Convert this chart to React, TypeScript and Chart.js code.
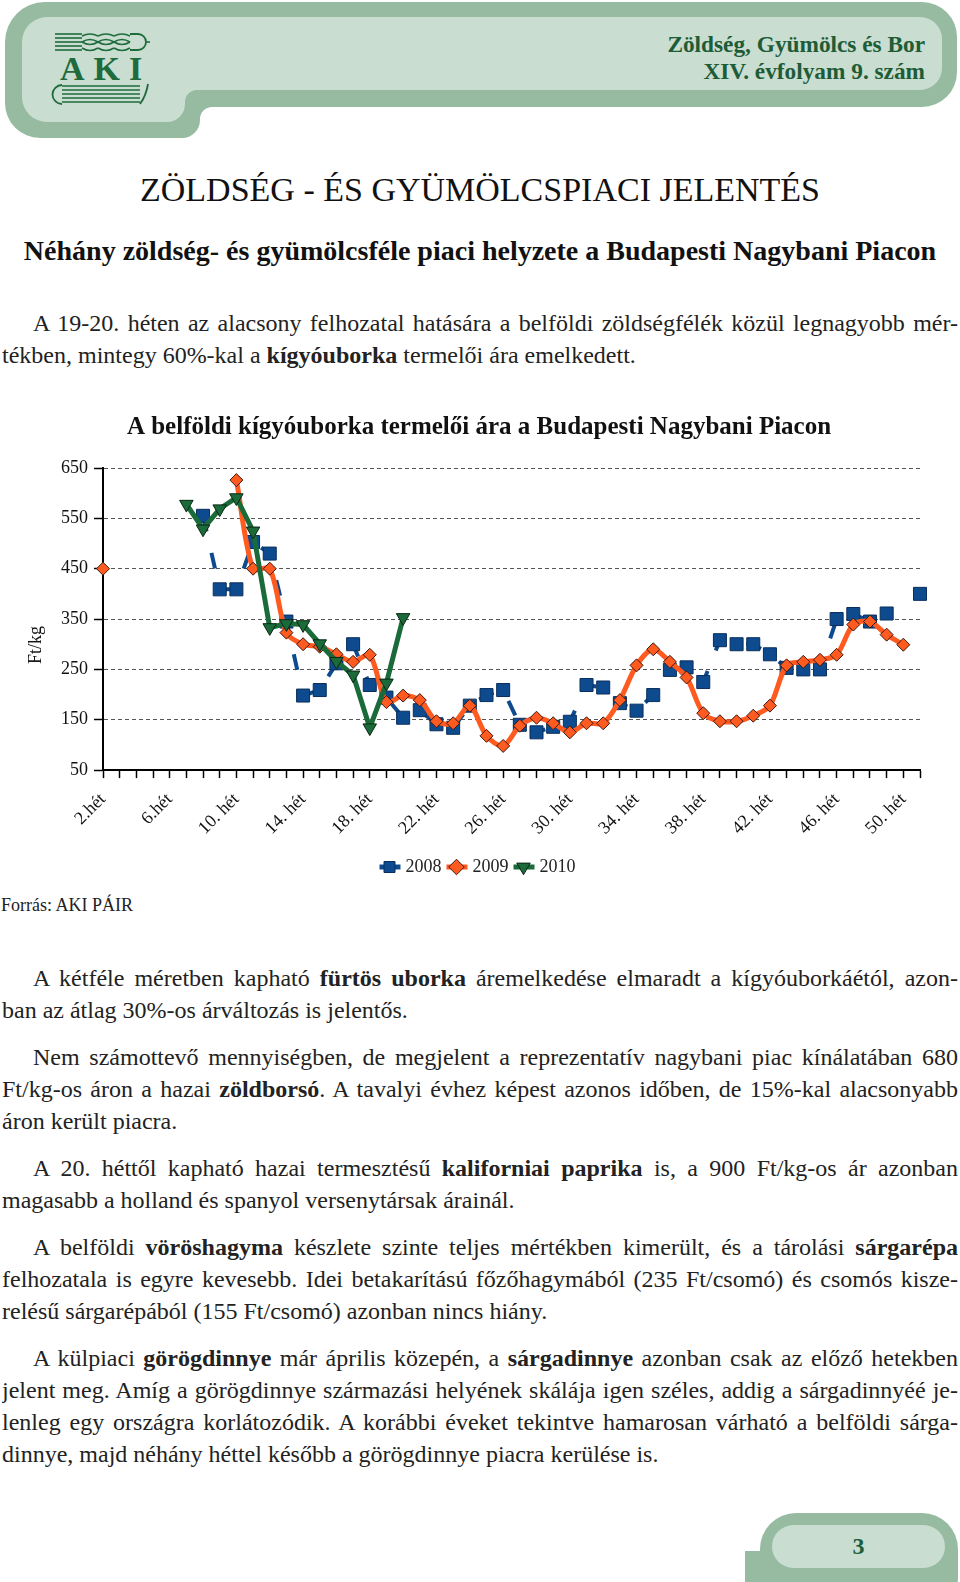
import React, { useEffect, useLayoutEffect, useRef } from "react";
import { Chart, registerables } from "chart.js";

Chart.register(...registerables);

const FONT = "'Liberation Serif', 'Times New Roman', serif";

// ---- chart data ----
const chartTitle = "A belföldi kígyóuborka termelői ára a Budapesti Nagybani Piacon";
const axisTitle = "Ft/kg";
const weekLabels = [
  "2.hét", "3.hét", "4.hét", "5.hét", "6.hét", "7.hét", "8.hét", "9.hét",
  "10. hét", "11. hét", "12. hét", "13. hét", "14. hét", "15. hét", "16. hét", "17. hét",
  "18. hét", "19. hét", "20. hét", "21. hét", "22. hét", "23. hét", "24. hét", "25. hét",
  "26. hét", "27. hét", "28. hét", "29. hét", "30. hét", "31. hét", "32. hét", "33. hét",
  "34. hét", "35. hét", "36. hét", "37. hét", "38. hét", "39. hét", "40. hét", "41. hét",
  "42. hét", "43. hét", "44. hét", "45. hét", "46. hét", "47. hét", "48. hét", "49. hét",
  "50. hét", "51. hét",
];
const seriesNames = ["2008", "2009", "2010"];
const price2008 = [
  null, null, null, null, null, null, 555, 409, 409, 503,
  480, 345, 198, 209, 262, 300, 219, 194, 154, 169,
  141, 134, 178, 199, 209, 140, 125, 136, 146, 219,
  214, 183, 168, 199, 249, 254, 225, 308, 300, 300,
  280, 253, 250, 250, 350, 360, 345, 361, null, 400,
];
const price2009 = [
  450, null, null, null, null, null, null, null, 626, 450,
  450, 323, 300, 295, 280, 265, 279, 185, 198, 189,
  147, 143, 178, 118, 98, 138, 154, 143, 125, 143,
  143, 189, 258, 290, 265, 234, 163, 147, 147, 158,
  178, 258, 265, 269, 279, 339, 345, 319, 299, null,
];
const price2010 = [
  null, null, null, null, null, 578, 529, 569, 591, 525,
  333, 341, 339, 301, 266, 239, 134, 223, 353, null,
  null, null, null, null, null, null, null, null, null, null,
  null, null, null, null, null, null, null, null, null, null,
  null, null, null, null, null, null, null, null, null, null,
];
const yMin = 50;
const yMax = 650;
const yStep = 100;

const BLUE = "#0E4A8E";
const ORANGE = "#FF5A1F";
const GREEN = "#1B6B3A";

const LEGEND_FONT = 18;
const LEGEND_BOX_W = 14;
const LEGEND_BOX_H = 11;

const legendLines = {
  id: "legendLines",
  beforeDraw(chart: any) {
    const lg = chart.legend;
    if (!lg || !lg.legendHitBoxes || !lg.legendItems) return;
    const ctx = chart.ctx;
    lg.legendHitBoxes.forEach((hb: any, i: number) => {
      const item = lg.legendItems[i];
      if (!item) return;
      const ds = chart.data.datasets[item.datasetIndex];
      const cx = hb.left + LEGEND_BOX_W / 2;
      const cy = hb.top + LEGEND_FONT / 2;
      ctx.save();
      ctx.strokeStyle = ds.borderColor;
      ctx.lineWidth = 5;
      ctx.beginPath();
      ctx.moveTo(cx - 10, cy);
      ctx.lineTo(cx + 11, cy);
      ctx.stroke();
      ctx.restore();
    });
  },
};

function PriceChart() {
  const ref = useRef<HTMLCanvasElement>(null);
  useEffect(() => {
    if (!ref.current) return;
    const chart = new Chart(ref.current, {
      type: "line",
      data: {
        labels: weekLabels,
        datasets: [
          {
            label: seriesNames[0],
            data: price2008,
            borderColor: BLUE,
            backgroundColor: BLUE,
            borderWidth: 4,
            borderDash: [16, 22],
            pointStyle: "rect",
            pointRadius: 9.2,
            pointBackgroundColor: BLUE,
            pointBorderColor: "#0A2F5C",
            pointBorderWidth: 1,
            tension: 0,
            order: 3,
          },
          {
            label: seriesNames[1],
            data: price2009,
            borderColor: ORANGE,
            backgroundColor: ORANGE,
            borderWidth: 5,
            pointStyle: "rectRot",
            pointRadius: 6.5,
            pointBackgroundColor: ORANGE,
            pointBorderColor: "#3A1A10",
            pointBorderWidth: 1,
            tension: 0.3,
            order: 2,
          },
          {
            label: seriesNames[2],
            data: price2010,
            borderColor: GREEN,
            backgroundColor: GREEN,
            borderWidth: 5,
            pointStyle: "triangle",
            pointRotation: 180,
            pointRadius: 7.8,
            pointBackgroundColor: GREEN,
            pointBorderColor: "#0B2614",
            pointBorderWidth: 1,
            tension: 0,
            order: 1,
          },
        ],
      },
      options: {
        animation: false,
        responsive: false,
        maintainAspectRatio: false,
        layout: { padding: { left: 38, right: 40, top: 0, bottom: 4 } },
        plugins: {
          title: {
            display: true,
            text: chartTitle,
            color: "#111",
            font: { family: FONT, size: 25, weight: "bold" },
            padding: { top: 8, bottom: 25 },
          },
          legend: {
            position: "bottom",
            labels: {
              usePointStyle: true,
              boxWidth: LEGEND_BOX_W,
              boxHeight: LEGEND_BOX_H,
              color: "#222",
              font: { family: FONT, size: LEGEND_FONT },
              padding: 8,
              sort: (a: any, b: any) => a.datasetIndex - b.datasetIndex,
            },
          },
          tooltip: { enabled: false },
        },
        scales: {
          x: {
            type: "category",
            offset: false,
            grid: {
              drawOnChartArea: false,
              drawTicks: true,
              tickLength: 8,
              tickColor: "#000",
              tickWidth: 1.5,
            },
            border: { display: true, color: "#000", width: 2 },
            ticks: {
              autoSkip: false,
              maxRotation: 45,
              minRotation: 45,
              padding: 11,
              color: "#111",
              font: { family: FONT, size: 18 },
              callback: (_v: any, i: number) => (i % 4 === 0 ? weekLabels[i] : ""),
            },
          },
          y: {
            min: yMin,
            max: yMax,
            afterFit: (scale: any) => {
              scale.width = 65;
            },
            grid: {
              color: "#555",
              lineWidth: 1,
              tickColor: "#000",
              tickWidth: 1.5,
              tickLength: 9,
            },
            border: { display: true, color: "#000", width: 2, dash: [4, 3] },
            ticks: {
              stepSize: yStep,
              padding: 6,
              color: "#111",
              font: { family: FONT, size: 18 },
            },
          },
        },
      },
      plugins: [legendLines],
    } as any);
    return () => chart.destroy();
  }, []);
  return (
    <canvas
      ref={ref}
      width={960}
      height={485}
      style={{ position: "absolute", left: 0, top: 405, width: 960, height: 485 }}
    />
  );
}

type Line = { content: React.ReactNode; indent?: boolean; last?: boolean };

function Para({ top, lines }: { top: number; lines: Line[] }) {
  const box = useRef<HTMLDivElement>(null);
  useLayoutEffect(() => {
    if (!box.current) return;
    Array.from(box.current.children).forEach((c) => {
      const el = c as HTMLDivElement;
      let ls = 0;
      while (el.scrollHeight > 34 && ls > -2) {
        ls -= 0.1;
        el.style.letterSpacing = ls.toFixed(2) + "px";
      }
    });
  }, []);
  return (
    <div ref={box} style={{ position: "absolute", left: 2, top, width: 956 }}>
      {lines.map((l, i) => (
        <div
          key={i}
          style={{
            height: 32,
            lineHeight: "32px",
            fontSize: 24,
            paddingLeft: l.indent ? 31 : 0,
            textAlign: "justify",
            textAlignLast: l.last ? "left" : "justify",
            overflow: "hidden",
          }}
        >
          {l.content}
        </div>
      ))}
    </div>
  );
}

function Header() {
  const outer =
    "M5,42 A40,40 0 0 1 45,2 L922,2 A35,35 0 0 1 957,37 L957,72 A35,35 0 0 1 922,107 L212,107 A12,12 0 0 0 200,119 L200,120 A18,18 0 0 1 182,138 L40,138 A35,35 0 0 1 5,103 Z";
  const inner =
    "M22,42 A25,25 0 0 1 47,17 L920,17 A22,22 0 0 1 942,39 L942,68 A22,22 0 0 1 920,90 L197,90 A12,12 0 0 0 185,102 L185,104 A18,18 0 0 1 167,122 L47,122 A25,25 0 0 1 22,97 Z";
  const dg = "#1E6B3C";
  return (
    <div style={{ position: "absolute", left: 0, top: 0, width: 960, height: 145 }}>
      <svg width={960} height={145} style={{ position: "absolute", left: 0, top: 0 }}>
        <path d={outer} fill="#97BBA1" />
        <path d={inner} fill="#C9DDD0" />
        {/* wheat */}
        {[34, 38, 42, 46, 50].map((y) => (
          <line key={y} x1={55} y1={y} x2={82} y2={y} stroke={dg} strokeWidth={1.6} />
        ))}
        {[82, 98, 114].map((x) => (
          <g key={x} fill="none" stroke={dg} strokeWidth={1.6}>
            <path d={`M${x},36 Q${x + 8},32 ${x + 16},36`} />
            <path d={`M${x},42 Q${x + 8},37 ${x + 16},42`} />
            <path d={`M${x},42 Q${x + 8},47 ${x + 16},42`} />
            <path d={`M${x},48 Q${x + 8},53 ${x + 16},48`} />
          </g>
        ))}
        <path d="M130,34 L138,34 A8,8 0 0 1 138,50 L130,50" fill="none" stroke={dg} strokeWidth={1.8} />
        <line x1={146} y1={42} x2={150} y2={42} stroke={dg} strokeWidth={1.6} />
        {/* book */}
        {[86, 90, 94, 98, 102].map((y) => (
          <line key={y} x1={62} y1={y} x2={140} y2={y} stroke={dg} strokeWidth={1.6} />
        ))}
        <path d="M62,85 A9,9 0 0 0 62,104" fill="none" stroke={dg} strokeWidth={1.8} />
        <path d="M140,104 Q146,96 148,84" fill="none" stroke={dg} strokeWidth={1.8} />
      </svg>
      <div
        style={{
          position: "absolute",
          left: 60,
          top: 50,
          width: 100,
          fontSize: 34,
          lineHeight: "38px",
          fontWeight: "bold",
          color: dg,
          letterSpacing: 9,
          fontFamily: FONT,
        }}
      >
        AKI
      </div>
      <div
        style={{
          position: "absolute",
          right: 35,
          top: 31,
          textAlign: "right",
          fontSize: 23.3,
          lineHeight: "27px",
          fontWeight: "bold",
          color: "#1D5C37",
        }}
      >
        <div>Zöldség, Gyümölcs és Bor</div>
        <div>XIV. évfolyam 9. szám</div>
      </div>
    </div>
  );
}

function Footer() {
  return (
    <div style={{ position: "absolute", left: 0, top: 1500, width: 960, height: 82 }}>
      <svg width={960} height={82} style={{ position: "absolute", left: 0, top: 0 }}>
        <rect x={745} y={51} width={40} height={40} fill="#97BBA1" />
        <rect x={760} y={13} width={198} height={100} rx={36} fill="#97BBA1" />
        <rect x={772} y={25} width={173} height={43} rx={21.5} fill="#C9DDD0" />
      </svg>
      <div
        style={{
          position: "absolute",
          left: 772,
          top: 25,
          width: 173,
          height: 43,
          lineHeight: "43px",
          textAlign: "center",
          fontSize: 24,
          fontWeight: "bold",
          color: "#1B5E3B",
        }}
      >
        3
      </div>
    </div>
  );
}

export default function App() {
  return (
    <div
      style={{
        position: "absolute",
        left: 0,
        top: 0,
        width: 960,
        height: 1582,
        overflow: "hidden",
        background: "#fff",
        fontFamily: FONT,
        color: "#222",
      }}
    >
      <Header />
      <div
        style={{
          position: "absolute",
          left: 0,
          top: 169,
          width: 960,
          textAlign: "center",
          fontSize: 34,
          lineHeight: "42px",
          color: "#111",
        }}
      >
        ZÖLDSÉG - ÉS GYÜMÖLCSPIACI JELENTÉS
      </div>
      <div
        style={{
          position: "absolute",
          left: 0,
          top: 234,
          width: 960,
          textAlign: "center",
          fontSize: 28,
          lineHeight: "34px",
          fontWeight: "bold",
          color: "#111",
        }}
      >
        Néhány zöldség- és gyümölcsféle piaci helyzete a Budapesti Nagybani Piacon
      </div>

      <Para
        top={307}
        lines={[
          {
            indent: true,
            content:
              "A 19-20. héten az alacsony felhozatal hatására a belföldi zöldségfélék közül legnagyobb mér-",
          },
          {
            last: true,
            content: (
              <>
                tékben, mintegy 60%-kal a <b>kígyóuborka</b> termelői ára emelkedett.
              </>
            ),
          },
        ]}
      />

      <PriceChart />
      <div
        style={{
          position: "absolute",
          left: 35,
          top: 645,
          fontSize: 18,
          lineHeight: "20px",
          whiteSpace: "nowrap",
          color: "#111",
          transform: "translate(-50%, -50%) rotate(-90deg)",
        }}
      >
        {axisTitle}
      </div>

      <div style={{ position: "absolute", left: 1, top: 894, fontSize: 18, lineHeight: "22px" }}>
        Forrás: AKI PÁIR
      </div>

      <Para
        top={962}
        lines={[
          {
            indent: true,
            content: (
              <>
                A kétféle méretben kapható <b>fürtös uborka</b> áremelkedése elmaradt a kígyóuborkáétól, azon-
              </>
            ),
          },
          { last: true, content: "ban az átlag 30%-os árváltozás is jelentős." },
        ]}
      />
      <Para
        top={1041}
        lines={[
          {
            indent: true,
            content:
              "Nem számottevő mennyiségben, de megjelent a reprezentatív nagybani piac kínálatában 680",
          },
          {
            content: (
              <>
                Ft/kg-os áron a hazai <b>zöldborsó</b>. A tavalyi évhez képest azonos időben, de 15%-kal alacsonyabb
              </>
            ),
          },
          { last: true, content: "áron került piacra." },
        ]}
      />
      <Para
        top={1152}
        lines={[
          {
            indent: true,
            content: (
              <>
                A 20. héttől kapható hazai termesztésű <b>kaliforniai paprika</b> is, a 900 Ft/kg-os ár azonban
              </>
            ),
          },
          { last: true, content: "magasabb a holland és spanyol versenytársak árainál." },
        ]}
      />
      <Para
        top={1231}
        lines={[
          {
            indent: true,
            content: (
              <>
                A belföldi <b>vöröshagyma</b> készlete szinte teljes mértékben kimerült, és a tárolási <b>sárgarépa</b>
              </>
            ),
          },
          {
            content:
              "felhozatala is egyre kevesebb. Idei betakarítású főzőhagymából (235 Ft/csomó) és csomós kisze-",
          },
          { last: true, content: "relésű sárgarépából (155 Ft/csomó) azonban nincs hiány." },
        ]}
      />
      <Para
        top={1342}
        lines={[
          {
            indent: true,
            content: (
              <>
                A külpiaci <b>görögdinnye</b> már április közepén, a <b>sárgadinnye</b> azonban csak az előző hetekben
              </>
            ),
          },
          {
            content:
              "jelent meg. Amíg a görögdinnye származási helyének skálája igen széles, addig a sárgadinnyéé je-",
          },
          {
            content:
              "lenleg egy országra korlátozódik. A korábbi éveket tekintve hamarosan várható a belföldi sárga-",
          },
          { last: true, content: "dinnye, majd néhány héttel később a görögdinnye piacra kerülése is." },
        ]}
      />

      <Footer />
    </div>
  );
}
